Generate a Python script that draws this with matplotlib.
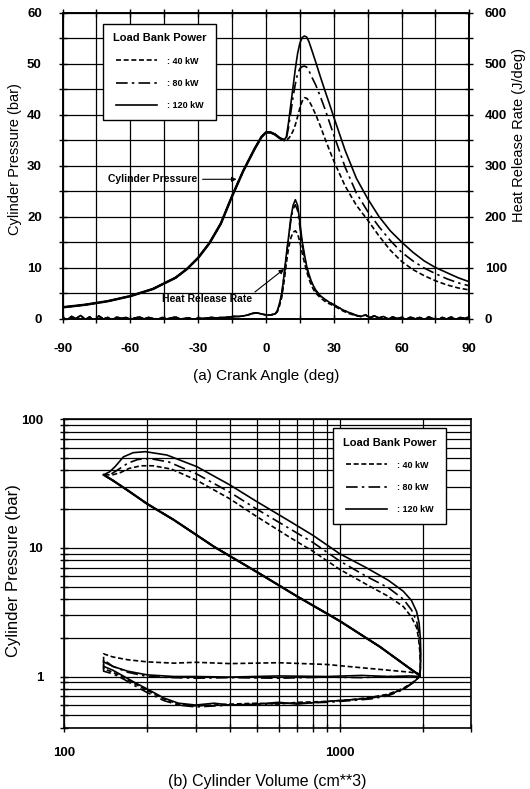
import numpy as np
import matplotlib
matplotlib.use('Agg')
import matplotlib.pyplot as plt
from matplotlib.ticker import MultipleLocator, LogLocator, NullFormatter, FixedLocator

plt.rcParams['font.family'] = ['Liberation Sans', 'DejaVu Sans']
plt.rcParams['axes.unicode_minus'] = False

# ---- (a) cylinder pressure vs crank angle ----
p_ang = [-90, -80, -70, -60, -50, -40, -35, -30, -25, -20, -15, -12, -10, -5, -2,
         0, 2, 4, 6, 8, 9, 10, 11, 12, 13, 14, 15, 16, 17, 18, 19, 20, 22, 24, 26,
         28, 30, 35, 40, 45, 50, 55, 60, 65, 70, 75, 80, 85, 90]
# compression part, same for all loads (-90 .. 8 deg)
p_comp = [2.2, 2.7, 3.4, 4.4, 5.8, 8.0, 9.7, 11.9, 14.8, 18.6, 24.0, 27.0, 29.0,
          33.3, 35.6, 36.5, 36.5, 36.1, 35.4, 35.0]
# combustion / expansion part (9 .. 90 deg)
p_120 = [35.6, 38.5, 42.0, 45.5, 49.0, 52.0, 54.0, 55.1, 55.4, 55.2, 54.3, 53.0, 50.3,
         47.5, 44.8, 42.2, 39.5, 33.0, 27.5, 23.5, 20.0, 17.2, 15.0, 13.0, 11.3, 10.0,
         9.0, 8.0, 7.2]
p_80 = [35.3, 37.5, 40.5, 43.5, 46.0, 48.0, 49.0, 49.4, 49.5, 49.3, 48.6, 47.6, 45.8,
        43.6, 41.2, 38.6, 36.0, 29.7, 24.6, 21.0, 18.0, 15.3, 13.0, 11.3, 9.9, 8.8,
        7.8, 7.0, 6.4]
p_40 = [35.0, 35.3, 35.9, 36.8, 38.0, 39.6, 41.3, 42.6, 43.3, 43.2, 42.7, 41.9, 40.0,
        37.8, 35.4, 33.1, 30.9, 26.0, 22.2, 19.3, 16.2, 13.4, 11.2, 9.6, 8.4, 7.4,
        6.6, 6.0, 5.6]

# heat release rate (J/deg)
hrr_ang_pre = np.arange(-90, 5, 2)
hrr_pre = [2, -3, 4, 0, 6, -2, 3, -5, 5, -1, 2, -3, 3, 0, 2, -2, 1, 3, -1, 2, 0, -2,
           2, -1, 1, 3, -1, 0, 1, -2, 1, 0, 1, 2, 1, 2, 2, 3, 4, 4, 5, 7, 10, 11, 9,
           7, 7, 9]
hrr_ang_mid = [5, 6, 7, 8, 9, 10, 11, 12, 13, 14, 15, 16, 17, 18, 19, 20, 21, 22, 24,
               26, 28, 30, 32, 34, 36, 38]
hrr_120 = [15, 30, 50, 85, 125, 160, 198, 222, 233, 222, 188, 152, 126, 103, 87, 74,
           64, 56, 45, 38, 32, 27, 22, 17, 13, 10]
hrr_80 = [14, 28, 48, 82, 122, 158, 192, 215, 223, 212, 180, 147, 121, 99, 84, 71,
          62, 54, 44, 37, 32, 27, 22, 17, 13, 9]
hrr_40 = [13, 25, 42, 72, 108, 138, 158, 169, 172, 166, 150, 129, 110, 92, 78, 66,
          57, 50, 41, 34, 29, 25, 20, 15, 11, 8]
hrr_ang_post = np.arange(40, 91, 2)
hrr_post = [6, 4, 7, 2, 5, 1, 4, -1, 3, 0, 2, -2, 3, -1, 2, -2, 3, 0, -3, 2, -1, 3,
            -2, 2, 0, 4]

# ---- (b) p-V diagram ----
comp_v = [1950, 1800, 1400, 1000, 700, 500, 350, 250, 200, 170, 150, 139]
comp_p = [1.02, 1.15, 1.7, 2.7, 4.2, 6.5, 10.2, 16.5, 22.0, 28.0, 33.5, 37.0]

exp_v_120 = [139, 146, 153, 164, 178, 197, 236, 303, 400, 500, 662, 800, 1000, 1250,
             1500, 1700, 1820, 1900, 1940, 1960, 1968, 1962, 1950]
exp_p_120 = [37, 39, 42.8, 51, 55, 56, 52.7, 42.8, 30.8, 22.9, 16.0, 12.5, 9.0, 7.0,
             5.6, 4.6, 3.9, 3.2, 2.6, 2.0, 1.5, 1.15, 1.0]
exp_v_80 = [139, 148, 158, 170, 185, 205, 240, 303, 400, 500, 662, 800, 1000, 1250,
            1500, 1700, 1820, 1900, 1935, 1955, 1962, 1958, 1950]
exp_p_80 = [37, 37.5, 41, 45.5, 48.7, 49.5, 46.5, 37.5, 27.0, 20.0, 14.0, 11.0, 7.9,
            6.0, 4.9, 4.0, 3.3, 2.7, 2.2, 1.7, 1.3, 1.1, 1.0]
exp_v_40 = [139, 150, 160, 172, 190, 210, 245, 303, 400, 500, 662, 800, 1000, 1250,
            1500, 1700, 1820, 1900, 1930, 1950, 1958, 1955, 1950]
exp_p_40 = [37, 37, 38.5, 41.5, 43.5, 43.5, 41.0, 33.5, 24.0, 17.5, 12.0, 9.4, 6.8,
            5.2, 4.2, 3.5, 2.9, 2.4, 2.0, 1.6, 1.25, 1.05, 1.0]

exh_v = [1950, 1800, 1500, 1200, 900, 600, 400, 300, 250, 200, 170, 150, 139]
exh_p_120 = [1.0, 1.01, 1.0, 1.02, 1.0, 1.01, 0.99, 1.0, 1.0, 1.03, 1.1, 1.2, 1.3]
exh_p_80 = [1.0, 0.99, 1.0, 0.98, 0.99, 0.97, 0.98, 0.97, 0.98, 1.0, 1.08, 1.2, 1.35]
exh_p_40 = [1.05, 1.08, 1.12, 1.17, 1.24, 1.28, 1.26, 1.29, 1.27, 1.30, 1.35, 1.42, 1.5]

int_v = [139, 150, 165, 180, 200, 230, 260, 300, 350, 400, 500, 600, 700, 900, 1100,
         1300, 1500, 1700, 1850, 1950]
int_p_120 = [1.2, 1.12, 1.0, 0.9, 0.8, 0.68, 0.62, 0.6, 0.62, 0.6, 0.61, 0.63, 0.61,
             0.64, 0.66, 0.68, 0.72, 0.8, 0.9, 1.0]
int_p_80 = [1.1, 1.05, 0.95, 0.85, 0.75, 0.65, 0.6, 0.58, 0.59, 0.6, 0.6, 0.62, 0.62,
            0.63, 0.65, 0.67, 0.71, 0.79, 0.9, 1.0]
int_p_40 = [1.15, 1.08, 0.98, 0.88, 0.78, 0.67, 0.61, 0.59, 0.6, 0.61, 0.62, 0.61,
            0.63, 0.64, 0.66, 0.69, 0.73, 0.81, 0.91, 1.0]

loads = [': 40 kW', ': 80 kW', ': 120 kW']
styles = [(0, (3, 1.6)), (0, (7, 2.5, 1.5, 2.5)), '-']

fig = plt.figure(figsize=(5.3, 7.89), dpi=100)

# ---------------- top panel ----------------
ax = fig.add_axes([0.1181, 0.5963, 0.7675, 0.3878])
ax2 = ax.twinx()

p_series = [p_40, p_80, p_120]
h_series = [hrr_40, hrr_80, hrr_120]
for p_tail, h_mid, ls, lab in zip(p_series, h_series, styles, loads):
    ax.plot(p_ang, p_comp + p_tail, color='k', lw=1.2, ls=ls, label=lab)
    ang = list(hrr_ang_pre) + hrr_ang_mid + list(hrr_ang_post)
    ax2.plot(ang, hrr_pre + h_mid + hrr_post, color='k', lw=1.2, ls=ls)
# overlapping compression traces look heavier in the original
ax.plot(p_ang[:len(p_comp)], p_comp, color='k', lw=1.8)

ax.set_xlim(-90, 90)
ax.set_ylim(0, 60)
ax2.set_ylim(0, 600)
ax.xaxis.set_major_locator(MultipleLocator(30))
ax.xaxis.set_minor_locator(MultipleLocator(15))
ax.yaxis.set_major_locator(MultipleLocator(10))
ax.yaxis.set_minor_locator(MultipleLocator(5))
ax2.yaxis.set_major_locator(MultipleLocator(100))
ax2.yaxis.set_minor_locator(MultipleLocator(50))
ax.grid(True, which='both', color='k', lw=0.9)
ax.set_axisbelow(True)

ax.tick_params(axis='x', which='both', direction='inout', length=6, width=1,
               top=True, pad=14.5, labelsize=9.5)
ax.tick_params(axis='y', which='both', direction='inout', length=6, width=1,
               pad=12, labelsize=9.5)
ax2.tick_params(axis='y', which='both', direction='inout', length=6, width=1,
                pad=8, labelsize=9.5)
for t in ax.get_xticklabels() + ax.get_yticklabels() + ax2.get_yticklabels():
    t.set_fontweight('bold')
for sp in list(ax.spines.values()) + list(ax2.spines.values()):
    sp.set_linewidth(1.2)

ax.set_xlabel('(a) Crank Angle (deg)', fontsize=11)
ax.xaxis.set_label_coords(0.5, -0.165)
ax.set_ylabel('Cylinder Pressure (bar)', fontsize=10.5)
ax.yaxis.set_label_coords(-0.10, 0.52)
ax2.set_ylabel('Heat Release Rate (J/deg)', fontsize=10.5)
ax2.yaxis.set_label_coords(1.105, 0.6)

ax.annotate('Cylinder Pressure', xy=(-13, 27.3), xytext=(-70, 27.3),
            fontsize=7.5, fontweight='bold', va='center',
            arrowprops=dict(arrowstyle='-|>', color='k', lw=0.8, mutation_scale=7,
                            shrinkA=2, shrinkB=0))
ax2.annotate('Heat Release Rate', xy=(8, 97), xytext=(-46, 38),
             fontsize=7.5, fontweight='bold', va='center',
             arrowprops=dict(arrowstyle='-|>', color='k', lw=0.8, mutation_scale=7,
                             shrinkA=0, shrinkB=0, relpos=(1.0, 1.0)))

leg = ax.legend(title='Load Bank Power', loc='upper left',
                bbox_to_anchor=(0.099, 0.964), borderaxespad=0, fontsize=6.5,
                handlelength=4.6, handletextpad=1.1, labelspacing=1.45,
                borderpad=1.1, fancybox=False, edgecolor='k', framealpha=1)
leg.get_title().set_fontsize(8)
leg.get_title().set_fontweight('bold')
leg.get_frame().set_linewidth(1.0)
for t in leg.get_texts():
    t.set_fontweight('bold')

# ---------------- bottom panel ----------------
bx = fig.add_axes([0.1211, 0.0777, 0.7681, 0.3909])
pv = [(exp_v_40, exp_p_40, exh_p_40, int_p_40),
      (exp_v_80, exp_p_80, exh_p_80, int_p_80),
      (exp_v_120, exp_p_120, exh_p_120, int_p_120)]
for (ev, ep, xp, ip), ls, lab in zip(pv, styles, loads):
    vol = comp_v + ev + exh_v + int_v
    prs = comp_p + ep + xp + ip
    bx.plot(vol, prs, color='k', lw=1.2, ls=ls, label=lab)
bx.plot(comp_v, comp_p, color='k', lw=1.6)

bx.set_xscale('log')
bx.set_yscale('log')
bx.set_xlim(100, 3000)
bx.set_ylim(0.4, 100)
bx.xaxis.set_major_locator(FixedLocator([100, 1000]))
bx.xaxis.set_minor_locator(LogLocator(base=10, subs=np.arange(2, 10)))
bx.xaxis.set_minor_formatter(NullFormatter())
bx.yaxis.set_major_locator(FixedLocator([1, 10, 100]))
bx.yaxis.set_minor_locator(LogLocator(base=10, subs=np.arange(2, 10)))
bx.yaxis.set_minor_formatter(NullFormatter())
bx.set_xticklabels(['100', '1000'])
bx.set_yticklabels(['1', '10', '100'])
bx.grid(True, which='both', color='k', lw=0.9)
bx.set_axisbelow(True)
bx.tick_params(axis='x', which='both', direction='inout', length=6, width=1,
               pad=11, labelsize=9.5)
bx.tick_params(axis='y', which='both', direction='inout', length=6, width=1,
               pad=12, labelsize=9.5)
for t in bx.get_xticklabels() + bx.get_yticklabels():
    t.set_fontweight('bold')
for sp in bx.spines.values():
    sp.set_linewidth(1.2)

bx.set_xlabel('(b) Cylinder Volume (cm**3)', fontsize=11.5)
bx.xaxis.set_label_coords(0.5, -0.15)
bx.set_ylabel('Cylinder Pressure (bar)', fontsize=12)
bx.yaxis.set_label_coords(-0.105, 0.51)

leg2 = bx.legend(title='Load Bank Power', loc='upper left',
                 bbox_to_anchor=(0.66, 0.973), borderaxespad=0, fontsize=6.5,
                 handlelength=4.6, handletextpad=1.1, labelspacing=1.45,
                 borderpad=1.1, fancybox=False, edgecolor='k', framealpha=1)
leg2.get_title().set_fontsize(8)
leg2.get_title().set_fontweight('bold')
leg2.get_frame().set_linewidth(1.0)
for t in leg2.get_texts():
    t.set_fontweight('bold')

fig.savefig('out.png', dpi=100)
